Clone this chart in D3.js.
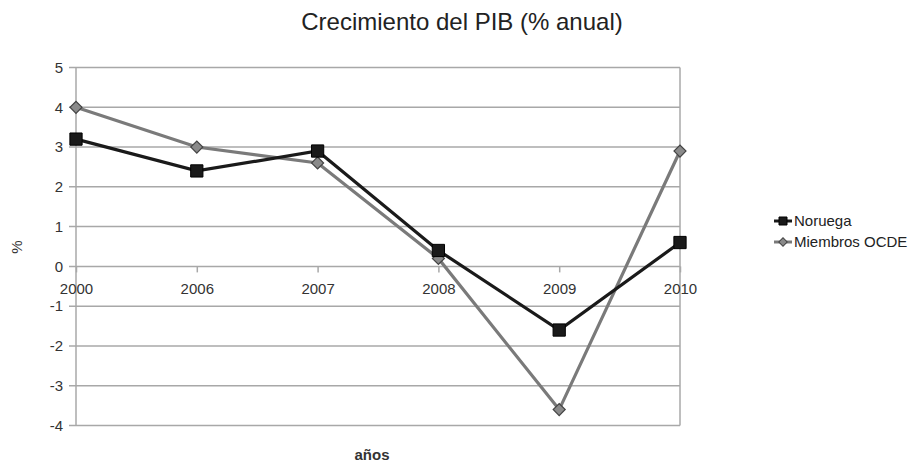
<!DOCTYPE html>
<html>
<head>
<meta charset="utf-8">
<script src="https://cdn.jsdelivr.net/npm/d3@7"></script>
<style>
  body { margin: 0; background: #fff; }
  svg { font-family: "Liberation Sans", Arial, sans-serif; }
  .grid line { stroke: #a8a8a8; stroke-width: 1.5; }
  .tick text { fill: #333; }
</style>
</head>
<body>
<script>
(function(){

//chart data
var years = ["2000", "2006", "2007", "2008", "2009", "2010"];
var noruega = [3.2, 2.4, 2.9, 0.4, -1.6, 0.6];
var ocde = [4.0, 3.0, 2.6, 0.2, -3.6, 2.9];
var yTicks = [5, 4, 3, 2, 1, 0, -1, -2, -3, -4];
var seriesNames = ["Noruega", "Miembros OCDE"];

window.onload = drawChart();

function drawChart(){
    var width = 917, height = 464;
    var left = 76, right = 680, top = 67.5, bottom = 425.5;

    var svg = d3.select("body").append("svg")
        .attr("width", width)
        .attr("height", height);

    var x = d3.scalePoint().domain(years).range([left, right]);
    var y = d3.scaleLinear().domain([-4, 5]).range([bottom, top]);

    //horizontal gridlines
    svg.append("g").attr("class", "grid")
        .selectAll("line")
        .data(yTicks)
        .enter().append("line")
        .attr("x1", left - 7).attr("x2", right)
        .attr("y1", function(d){ return y(d); })
        .attr("y2", function(d){ return y(d); });

    //plot frame verticals
    svg.append("line").attr("x1", left).attr("x2", left)
        .attr("y1", top).attr("y2", bottom)
        .attr("stroke", "#a8a8a8").attr("stroke-width", 1.5);
    svg.append("line").attr("x1", right).attr("x2", right)
        .attr("y1", top).attr("y2", bottom)
        .attr("stroke", "#a8a8a8").attr("stroke-width", 1.5);

    //y axis labels (plain hyphen for negatives, like the original)
    var yAxis = d3.axisLeft(y).tickValues(yTicks).tickSize(0).tickPadding(0)
        .tickFormat(function(d){ return String(d); });
    var gy = svg.append("g").attr("transform", "translate(" + (left - 13) + ",0)").call(yAxis);
    gy.select(".domain").remove();
    gy.selectAll("text").style("font-size", "15px");

    //x axis on the zero line
    var xAxis = d3.axisBottom(x).tickSize(6).tickPadding(11);
    var gx = svg.append("g").attr("transform", "translate(0," + y(0) + ")").call(xAxis);
    gx.select(".domain").remove();
    gx.selectAll(".tick line").attr("stroke", "#a8a8a8").attr("stroke-width", 1.5);
    gx.selectAll("text").style("font-size", "15px");

    //lines
    var line = d3.line()
        .x(function(d, i){ return x(years[i]); })
        .y(function(d){ return y(d); });

    svg.append("path").datum(ocde)
        .attr("d", line).attr("fill", "none")
        .attr("stroke", "#7a7a7a").attr("stroke-width", 3.2);
    svg.append("path").datum(noruega)
        .attr("d", line).attr("fill", "none")
        .attr("stroke", "#1a1a1a").attr("stroke-width", 3.2);

    //markers
    var sq = d3.symbol().type(d3.symbolSquare).size(150);
    var dm = d3.symbol().type(d3.symbolSquare).size(72);

    svg.selectAll(".mOcde").data(ocde).enter().append("path")
        .attr("class", "mOcde")
        .attr("d", dm)
        .attr("transform", function(d, i){ return "translate(" + x(years[i]) + "," + y(d) + ") rotate(45)"; })
        .attr("fill", "#8a8a8a").attr("stroke", "#444").attr("stroke-width", 1.2);
    svg.selectAll(".mNor").data(noruega).enter().append("path")
        .attr("class", "mNor")
        .attr("d", sq)
        .attr("transform", function(d, i){ return "translate(" + x(years[i]) + "," + y(d) + ")"; })
        .attr("fill", "#1a1a1a").attr("stroke", "#000").attr("stroke-width", 1);

    //title
    svg.append("text").attr("x", 462).attr("y", 30)
        .attr("text-anchor", "middle")
        .style("font-size", "24px").style("fill", "#222")
        .text("Crecimiento del PIB (% anual)");

    //axis titles
    svg.append("text")
        .attr("transform", "translate(22,247) rotate(-90)")
        .attr("text-anchor", "middle")
        .style("font-size", "15px").style("fill", "#333")
        .text("%");
    svg.append("text").attr("x", 372).attr("y", 460)
        .attr("text-anchor", "middle")
        .style("font-size", "15px").style("font-weight", "bold").style("fill", "#333")
        .text("años");

    //legend
    var legend = svg.append("g").attr("transform", "translate(783,221)");
    var items = legend.selectAll("g").data(seriesNames).enter().append("g")
        .attr("transform", function(d, i){ return "translate(0," + (i * 21) + ")"; });
    items.append("line").attr("x1", -9).attr("x2", 9)
        .attr("stroke", function(d, i){ return i == 0 ? "#1a1a1a" : "#7a7a7a"; })
        .attr("stroke-width", 3);
    items.append("path")
        .attr("d", function(d, i){ return d3.symbol().type(d3.symbolSquare).size(i == 0 ? 64 : 36)(); })
        .attr("transform", function(d, i){ return i == 0 ? null : "rotate(45)"; })
        .attr("fill", function(d, i){ return i == 0 ? "#1a1a1a" : "#8a8a8a"; })
        .attr("stroke", function(d, i){ return i == 0 ? "#000" : "#444"; });
    items.append("text").attr("x", 11).attr("y", 5)
        .style("font-size", "15px").style("fill", "#222")
        .text(function(d){ return d; });
};
})();
</script>
</body>
</html>
